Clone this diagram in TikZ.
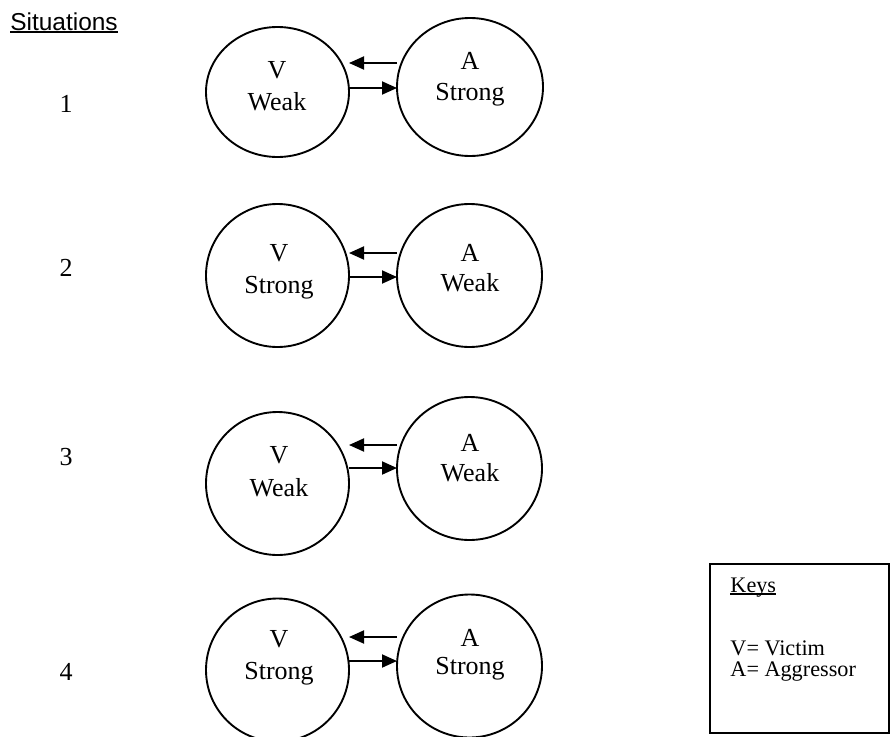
\documentclass[tikz,border=0pt]{standalone}
\usepackage{fontspec}
\setmainfont{Liberation Serif}
\newfontfamily\arialf{Liberation Sans}
\usetikzlibrary{shapes.geometric,arrows.meta}
\def\pxu{0.45pt}
\newcommand{\myul}[1]{\setbox0\hbox{#1}\rlap{\rule[-1.2pt]{\wd0}{0.55pt}}\box0}
\begin{document}
\begin{tikzpicture}[x=0.45pt,y=-0.45pt,
  circ/.style={draw, ellipse, line width=0.85pt, inner sep=0pt, outer sep=0pt},
  arr/.style={line width=0.85pt, -{Triangle[length=15*\pxu, width=13*\pxu]}},
  txt/.style={inner sep=0pt, anchor=base, font=\fontsize{11.7pt}{14pt}\selectfont},
  keyline/.style={inner sep=0pt, anchor=base west, font=\fontsize{10pt}{12pt}\selectfont}]
\clip (0,0) rectangle (890,736);
\fill[white] (0,0) rectangle (890,736);

% heading
\node[inner sep=0pt, anchor=base, font=\arialf\fontsize{11pt}{13pt}\selectfont] (head) at (64,30) {\myul{Situations}};

% numbers
\node[txt] (n1) at (66,112) {1};
\node[txt] (n2) at (66,276) {2};
\node[txt] (n3) at (66,465) {3};
\node[txt] (n4) at (66,680) {4};

% row 1
\node[circ, minimum width=143*\pxu, minimum height=130*\pxu] (L1) at (277.5,92) {};
\node[circ, minimum width=146*\pxu, minimum height=138*\pxu] (R1) at (470,87) {};
\node[txt] (L1a) at (277,78) {V};
\node[txt] (L1b) at (277,110) {Weak};
\node[txt] (R1a) at (470,69) {A};
\node[txt] (R1b) at (470,100) {Strong};
\coordinate (u1) at (0,63);
\coordinate (d1) at (0,88);
\draw[arr] (R1.west |- u1) -- (L1.east |- u1);
\draw[arr] (L1.east |- d1) -- (R1.west |- d1);

% row 2
\node[circ, minimum width=143*\pxu, minimum height=143*\pxu] (L2) at (277.5,275.5) {};
\node[circ, minimum width=145*\pxu, minimum height=143*\pxu] (R2) at (469.5,275.5) {};
\node[txt] (L2a) at (279,261) {V};
\node[txt] (L2b) at (279,293) {Strong};
\node[txt] (R2a) at (470,261) {A};
\node[txt] (R2b) at (470,291) {Weak};
\coordinate (u2) at (0,253);
\coordinate (d2) at (0,277);
\draw[arr] (R2.west |- u2) -- (L2.east |- u2);
\draw[arr] (L2.east |- d2) -- (R2.west |- d2);

% row 3
\node[circ, minimum width=143*\pxu, minimum height=143*\pxu] (L3) at (277.5,483.5) {};
\node[circ, minimum width=145*\pxu, minimum height=143*\pxu] (R3) at (469.5,468.5) {};
\node[txt] (L3a) at (279,463) {V};
\node[txt] (L3b) at (279,496) {Weak};
\node[txt] (R3a) at (470,451) {A};
\node[txt] (R3b) at (470,481) {Weak};
\coordinate (u3) at (0,445);
\coordinate (d3) at (0,468);
\draw[arr] (R3.west |- u3) -- (L3.east |- u3);
\draw[arr] (L3.east |- d3) -- (R3.west |- d3);

% row 4
\node[circ, minimum width=143*\pxu, minimum height=143*\pxu] (L4) at (277.5,670) {};
\node[circ, minimum width=145*\pxu, minimum height=143*\pxu] (R4) at (469.5,666) {};
\node[txt] (L4a) at (279,647) {V};
\node[txt] (L4b) at (279,679) {Strong};
\node[txt] (R4a) at (470,646) {A};
\node[txt] (R4b) at (470,674) {Strong};
\coordinate (u4) at (0,637);
\coordinate (d4) at (0,661);
\draw[arr] (R4.west |- u4) -- (L4.east |- u4);
\draw[arr] (L4.east |- d4) -- (R4.west |- d4);

% key box
\node[draw, rectangle, line width=0.85pt, inner sep=0pt, outer sep=0pt,
      minimum width=179*\pxu, minimum height=169*\pxu] (keybox) at (799.5,648.5) {};
\node[keyline] (keyt) at (730,592) {\myul{Keys}};
\node[keyline] (keyv) at (730,655) {V= Victim};
\node[keyline] (keya) at (730,676) {A= Aggressor};
\end{tikzpicture}
\end{document}
